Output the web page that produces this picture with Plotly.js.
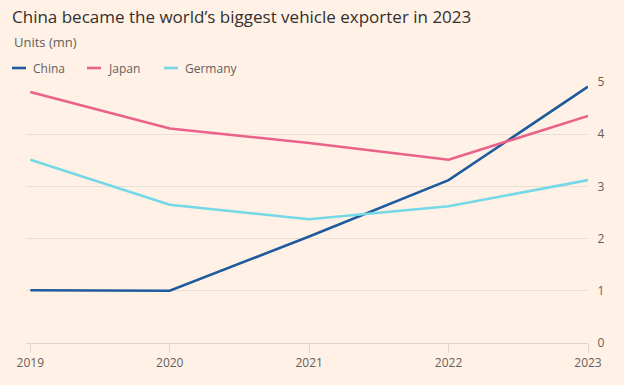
<!DOCTYPE html>
<html>
<head>
<meta charset="utf-8">
<script src="https://cdn.plot.ly/plotly-3.0.1.min.js"></script>
<style>
  html, body { margin: 0; padding: 0; background: #fff1e5; }
  #chart { width: 624px; height: 385px; }
</style>
</head>
<body>
<div id="chart"></div>
<script>
const years = [2019, 2020, 2021, 2022, 2023];
const china = [1.01, 1.00, 2.04, 3.12, 4.91];
const japan = [4.81, 4.11, 3.83, 3.51, 4.35];
const germany = [3.51, 2.65, 2.37, 2.62, 3.12];
const seriesNames = ['China', 'Japan', 'Germany'];
const seriesColors = ['#1d5b9e', '#ea6189', '#74d8e7'];
const yTicks = [0, 1, 2, 3, 4, 5];
const titleText = 'China became the world\u2019s biggest vehicle exporter in 2023';
const subtitleText = 'Units (mn)';

const W = 624, H = 385;
const M = { l: 26, r: 36, t: 82, b: 42 };
const pw = W - M.l - M.r, ph = H - M.t - M.b;
const px2x = p => (p - M.l) / pw;
const px2y = p => (H - M.b - p) / ph;

const font = '"Open Sans", "Noto Sans", sans-serif';
const grey = '#66605c';

const values = [china, japan, germany];
const traces = values.map((v, i) => ({
  x: years, y: v, type: 'scatter', mode: 'lines', name: seriesNames[i],
  line: { color: seriesColors[i], width: 2.6 }, showlegend: false, hoverinfo: 'skip'
}));

// manual legend
const legendSymX = [12, 87, 164];
const legendY = 68;
const shapes = [];
const annotations = [{
  xref: 'paper', yref: 'paper', x: px2x(12), y: px2y(42), xanchor: 'left', yanchor: 'middle',
  text: subtitleText, showarrow: false, font: { family: font, size: 13, color: grey }
}];
seriesNames.forEach((n, i) => {
  shapes.push({
    type: 'line', xref: 'paper', yref: 'paper',
    x0: px2x(legendSymX[i]), x1: px2x(legendSymX[i] + 14), y0: px2y(legendY), y1: px2y(legendY),
    line: { color: seriesColors[i], width: 2.6 }
  });
  annotations.push({
    xref: 'paper', yref: 'paper', x: px2x(legendSymX[i] + 19), y: px2y(legendY),
    xanchor: 'left', yanchor: 'middle', text: n, showarrow: false,
    font: { family: font, size: 12, color: grey }
  });
});

const layout = {
  width: W, height: H,
  paper_bgcolor: '#fff1e5', plot_bgcolor: '#fff1e5',
  margin: M,
  title: {
    text: titleText, xref: 'container', yref: 'container',
    x: 12 / W, xanchor: 'left', y: 1 - 17 / H, yanchor: 'middle',
    font: { family: font, size: 17, color: '#33302e' }
  },
  showlegend: false,
  xaxis: {
    range: [2018.969, 2023.0], tickvals: years, ticktext: years.map(String),
    showgrid: false, zeroline: false, showline: false,
    ticks: 'outside', ticklen: 9, tickwidth: 1, tickcolor: '#e0d6cb',
    tickfont: { family: font, size: 12, color: grey }, fixedrange: true
  },
  yaxis: {
    range: [0, 5], side: 'right', tickvals: yTicks,
    showgrid: true, gridcolor: '#e9dfd4', gridwidth: 1,
    zeroline: true, zerolinecolor: '#e0d6cb', zerolinewidth: 1,
    showline: false, ticks: 'outside', ticklen: 6, tickcolor: 'rgba(0,0,0,0)',
    tickfont: { family: font, size: 12, color: grey }, fixedrange: true
  },
  shapes: shapes,
  annotations: annotations
};

Plotly.newPlot('chart', traces, layout, { displayModeBar: false, staticPlot: true });
</script>
</body>
</html>
